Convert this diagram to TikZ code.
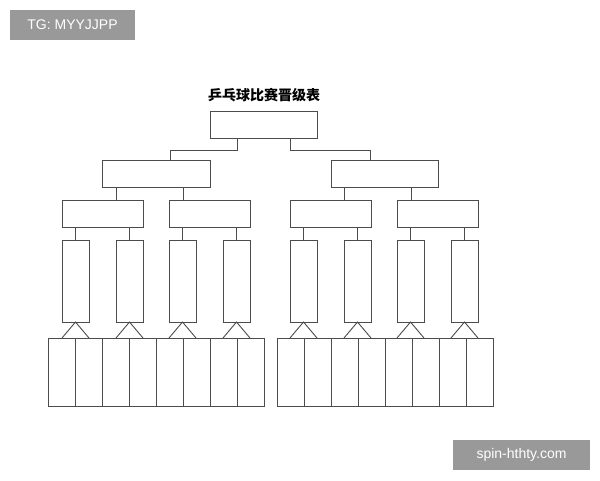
\documentclass[tikz,border=0pt]{standalone}
\usepackage{fontspec}
\setmainfont{Liberation Sans}
\newfontfamily\cjk{Noto Sans CJK SC}
\begin{document}
\begin{tikzpicture}[x=1pt,y=-1pt,line width=0.9pt,
  bx/.style={draw=black!70,inner sep=0pt,anchor=north west},
  ln/.style={draw=black!70},
  wm/.style={fill=black!40,text=white,inner sep=0pt,font=\fontsize{14}{14}\selectfont}]
\useasboundingbox (0,0) rectangle (600,480);
\fill[white] (0,0) rectangle (600,480);
\node[wm,minimum width=125pt,minimum height=30pt] (w1) at (72.5,25) {TG: MYYJJPP};
\node[wm,minimum width=137pt,minimum height=30pt] (w2) at (521.5,455) {spin-hthty.com};
\node (title) at (264,95) {\cjk\bfseries\fontsize{14}{14}\selectfont 乒乓球比赛晋级表};
% top
\node[bx,minimum width=107pt,minimum height=27pt] (t) at (210,111) {};
\node[bx,minimum width=108pt,minimum height=27pt] (l2a) at (102,160) {};
\node[bx,minimum width=107pt,minimum height=27pt] (l2b) at (331,160) {};
\coordinate (c1) at (237,138); \coordinate (c2) at (290,138);
\draw[ln] (c1) -- (237,150) -- (170,150) -- (170,160);
\draw[ln] (c2) -- (290,150) -- (370,150) -- (370,160);
% level3
\foreach \x/\n in {62/a,169/b,290/c,397/d}{
  \node[bx,minimum width=81pt,minimum height=27pt] (l3\n) at (\x,200) {};
  \draw[ln] (\x+13.5,227) -- (\x+13.5,240);
  \draw[ln] (\x+67.5,227) -- (\x+67.5,240);
  \node[bx,minimum width=27pt,minimum height=82pt] (l4\n1) at (\x,240) {};
  \node[bx,minimum width=27pt,minimum height=82pt] (l4\n2) at (\x+54,240) {};
  \draw[ln] (\x,338) -- (\x+13.5,322) -- (\x+27,338);
  \draw[ln] (\x+54,338) -- (\x+67.5,322) -- (\x+81,338);
}
\foreach \x in {116,183}{\draw[ln] (\x,187) -- (\x,200);}
\foreach \x in {344,411}{\draw[ln] (\x,187) -- (\x,200);}
% bottom
\foreach \s in {48,277}{
  \foreach \i in {0,...,7}{
    \node[bx,minimum width=27pt,minimum height=68pt] at (\s+27*\i-0,338) {};
  }
}
\end{tikzpicture}
\end{document}
